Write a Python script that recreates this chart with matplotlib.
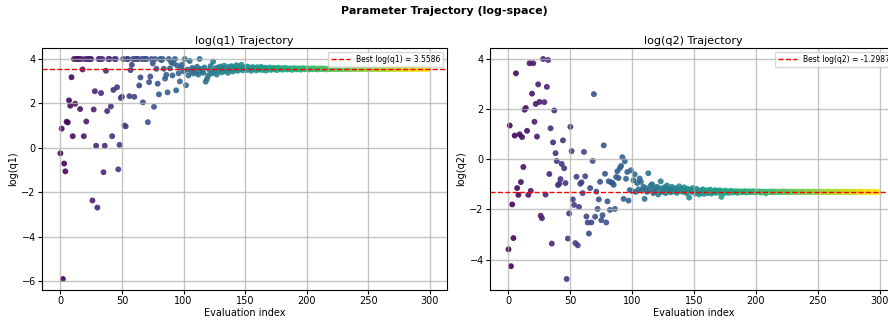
import numpy as np
import matplotlib.pyplot as plt

# log-space parameter values per evaluation
log_q1 = [
    -0.24, 0.87, -5.89, -0.70, -1.05, 1.18, 1.15, 2.14, 1.90, 3.18,
    0.53, 4.00, 1.99, 4.00, 4.00, 4.00, 1.75, 4.00, 3.53, 0.53,
    4.00, 1.19, 4.00, 4.00, 4.00, 4.00, -2.36, 1.73, 2.55, 0.10,
    -2.68, 4.00, 4.00, 2.47, 4.00, -1.09, 0.10, 3.47, 1.66, 4.00,
    4.00, 1.87, 0.53, 2.61, 4.00, 4.00, 2.73, -0.96, 0.14, 2.25,
    2.30, 4.00, 1.01, 0.97, 4.00, 4.00, 2.33, 3.50, 3.74, 4.00,
    2.30, 4.00, 4.00, 4.00, 2.81, 3.17, 4.00, 2.05, 4.00, 4.00,
    4.00, 1.16, 2.96, 3.21, 4.00, 3.80, 1.85, 4.00, 3.56, 2.89,
    2.41, 4.00, 3.95, 4.00, 3.56, 3.12, 3.29, 2.50, 4.00, 3.58,
    3.85, 3.26, 3.80, 4.00, 2.59, 3.70, 3.36, 2.99, 3.62, 3.75,
    3.45, 4.00, 2.82, 3.52, 3.26, 3.91, 3.48, 3.60, 3.35, 3.55,
    3.40, 3.65, 3.30, 4.00, 3.55, 3.45, 3.38, 3.62, 2.98, 3.10,
    3.25, 3.50, 3.68, 3.35, 3.88, 3.42, 3.58, 3.30, 3.62, 3.48,
    3.66, 3.40, 3.55, 3.70, 3.45, 3.60, 3.38, 3.65, 3.52, 3.68,
    3.44, 3.62, 3.50, 3.72, 3.47, 3.63, 3.55, 3.74, 3.49, 3.60,
    3.62, 3.50, 3.66, 3.53, 3.58, 3.47, 3.64, 3.55, 3.60, 3.49,
    3.63, 3.52, 3.58, 3.65, 3.50, 3.57, 3.61, 3.48, 3.59, 3.54,
    3.62, 3.51, 3.57, 3.60, 3.53, 3.58, 3.50, 3.61, 3.55, 3.57,
    3.52, 3.59, 3.54, 3.60, 3.53, 3.57, 3.55, 3.58, 3.51, 3.56,
    3.59, 3.53, 3.57, 3.55, 3.58, 3.52, 3.56, 3.59, 3.54, 3.57,
    3.55, 3.58, 3.53, 3.56, 3.57, 3.54, 3.58, 3.55, 3.56, 3.53,
    3.57, 3.55, 3.58, 3.54, 3.56, 3.57, 3.55, 3.53, 3.57, 3.56,
    3.54, 3.57, 3.55, 3.56, 3.58, 3.55, 3.54, 3.57, 3.56, 3.55,
    3.57, 3.54, 3.56, 3.55, 3.57, 3.56, 3.54, 3.56, 3.57, 3.55,
    3.56, 3.55, 3.57, 3.56, 3.54, 3.56, 3.55, 3.57, 3.56, 3.55,
    3.56, 3.57, 3.55, 3.56, 3.55, 3.57, 3.56, 3.55, 3.56, 3.56,
    3.55, 3.56, 3.57, 3.56, 3.55, 3.56, 3.56, 3.55, 3.57, 3.56,
    3.56, 3.55, 3.56, 3.56, 3.57, 3.56, 3.55, 3.56, 3.56, 3.56,
    3.55, 3.56, 3.56, 3.57, 3.56, 3.56, 3.55, 3.56, 3.56, 3.56,
    3.56, 3.56, 3.55, 3.56, 3.56, 3.56, 3.56, 3.55, 3.56, 3.56,
]

log_q2 = [
    -3.59, 1.34, -4.26, -1.80, -3.14, 0.94, 3.42, -1.15, -1.42, 0.99,
    -0.91, 0.88, -0.31, 1.97, 2.04, 1.13, -1.42, 3.82, -1.26, 2.61,
    3.82, 1.49, 2.20, 0.90, 2.98, 2.28, -2.25, -2.35, 3.99, 2.27,
    -1.41, 2.88, 3.95, -0.59, 1.23, -3.36, 0.67, 1.94, 0.24, -0.07,
    -1.03, -0.98, -0.79, -0.19, 0.75, -0.36, -0.95, -4.77, -3.16, -2.16,
    1.29, 0.32, -1.60, -1.82, -3.34, -0.70, -3.43, -1.90, -0.98, -0.92,
    -1.35, 0.29, -0.68, -2.28, -2.52, -2.96, -1.15, -2.52, -0.07, 2.59,
    -2.29, -1.29, -1.98, -1.60, -0.90, -2.43, -2.23, 0.55, -0.58, -2.52,
    -1.68, -0.88, -2.02, -0.92, -0.95, -1.02, -1.98, -0.71, -0.48, -0.75,
    -0.35, -0.27, 0.08, -1.58, -0.08, -0.78, -0.51, -1.65, -1.23, -0.44,
    -1.27, -0.84, -0.60, -1.30, -0.95, -1.20, -0.77, -0.90, -1.25, -1.10,
    -1.58, -1.15, -1.30, -0.56, -1.22, -1.05, -1.00, -1.35, -1.18, -1.28,
    -1.10, -1.40, -1.15, -0.88, -1.30, -1.20, -1.12, -1.35, -1.05, -1.25,
    -1.18, -1.32, -1.10, -1.28, -1.22, -1.15, -1.34, -1.20, -1.08, -1.27,
    -1.19, -1.30, -1.12, -1.25, -1.35, -1.18, -1.53, -1.22, -1.30, -1.15,
    -1.22, -1.36, -1.18, -1.30, -1.40, -1.25, -1.33, -1.20, -1.38, -1.27,
    -1.24, -1.35, -1.29, -1.21, -1.37, -1.28, -1.32, -1.23, -1.34, -1.26,
    -1.31, -1.24, -1.50, -1.29, -1.35, -1.25, -1.32, -1.27, -1.34, -1.28,
    -1.26, -1.33, -1.29, -1.31, -1.27, -1.34, -1.30, -1.28, -1.32, -1.29,
    -1.31, -1.27, -1.33, -1.30, -1.28, -1.32, -1.29, -1.31, -1.27, -1.30,
    -1.32, -1.29, -1.31, -1.28, -1.33, -1.30, -1.29, -1.31, -1.36, -1.30,
    -1.29, -1.31, -1.30, -1.28, -1.32, -1.30, -1.29, -1.31, -1.30, -1.29,
    -1.31, -1.30, -1.28, -1.31, -1.30, -1.29, -1.32, -1.30, -1.29, -1.31,
    -1.30, -1.29, -1.31, -1.30, -1.30, -1.29, -1.31, -1.30, -1.29, -1.30,
    -1.31, -1.30, -1.29, -1.30, -1.31, -1.30, -1.30, -1.29, -1.30, -1.31,
    -1.30, -1.30, -1.29, -1.30, -1.30, -1.31, -1.30, -1.30, -1.29, -1.30,
    -1.30, -1.31, -1.30, -1.30, -1.30, -1.29, -1.30, -1.30, -1.31, -1.30,
    -1.30, -1.30, -1.30, -1.29, -1.30, -1.30, -1.30, -1.31, -1.30, -1.30,
    -1.30, -1.30, -1.30, -1.30, -1.29, -1.30, -1.30, -1.30, -1.30, -1.30,
    -1.30, -1.30, -1.30, -1.30, -1.30, -1.30, -1.30, -1.30, -1.30, -1.30,
]

best_q1 = 3.5586
best_q2 = -1.2987

idx = np.arange(len(log_q1))

fig = plt.figure(figsize=(8.88, 3.23), dpi=100)
fig.suptitle('Parameter Trajectory (log-space)', fontsize=8, fontweight='bold', y=0.982)

# the right panel runs slightly past the figure edge
ax1 = fig.add_axes([0.0473, 0.1022, 0.4561, 0.7492])
ax2 = fig.add_axes([0.5518, 0.1022, 0.4583, 0.7492])

panels = [
    (ax1, log_q1, best_q1, 'log(q1)', '3.5586'),
    (ax2, log_q2, best_q2, 'log(q2)', '-1.2987'),
]

for ax, vals, best, name, best_txt in panels:
    ax.scatter(idx, vals, c=idx, cmap='viridis', s=18, alpha=0.9, linewidths=0)
    ax.axhline(best, color='red', linestyle='--', linewidth=1.0,
               label=f'Best {name} = {best_txt}')
    ax.set_title(f'{name} Trajectory', fontsize=8, pad=3)
    ax.set_xlabel('Evaluation index', fontsize=7, labelpad=1)
    ax.set_ylabel(name, fontsize=7, labelpad=2)
    ax.tick_params(labelsize=7, length=3, pad=1.5)
    ax.grid(True, color='#b0b0b0', alpha=0.75, linewidth=1)
    ax.legend(loc='upper right', fontsize=5.5, handlelength=2.5, borderpad=0.4)

plt.savefig('out.png', dpi=100)
